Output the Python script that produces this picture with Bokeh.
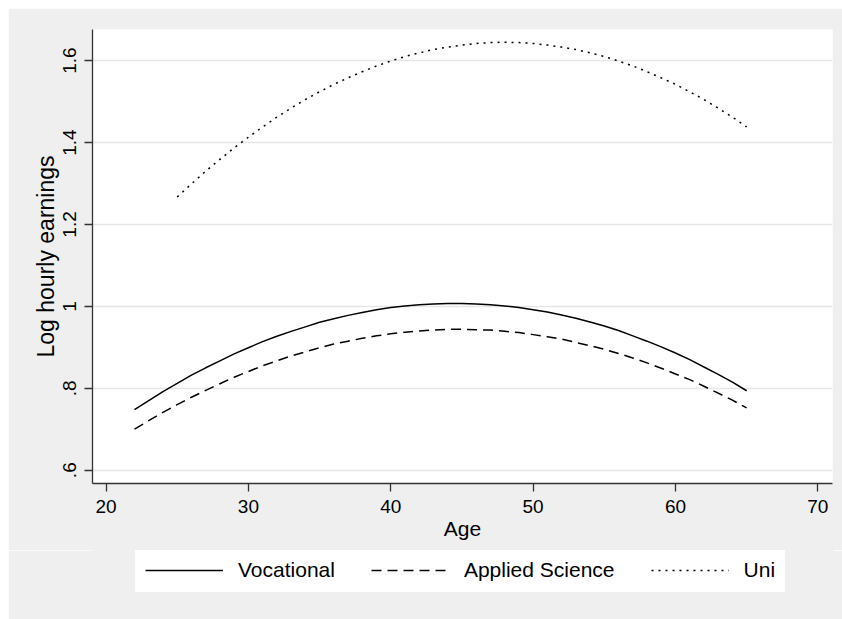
from bokeh.plotting import figure
from bokeh.layouts import column
from bokeh.models import Range1d, FixedTicker, Legend, LegendItem, ColumnDataSource
from bokeh.embed import file_html
from bokeh.resources import INLINE

# ---- data ----
ages_voc = list(range(22, 66))
vocational = [0.748, 0.770, 0.792, 0.812, 0.832, 0.850, 0.867, 0.884, 0.899, 0.914,
              0.927, 0.939, 0.950, 0.961, 0.970, 0.978, 0.985, 0.992, 0.997, 1.001,
              1.004, 1.006, 1.007, 1.007, 1.006, 1.004, 1.001, 0.997, 0.992, 0.986,
              0.979, 0.971, 0.962, 0.952, 0.941, 0.928, 0.915, 0.901, 0.886, 0.870,
              0.852, 0.834, 0.815, 0.794]
ages_app = list(range(22, 66))
applied = [0.700, 0.721, 0.741, 0.760, 0.778, 0.795, 0.811, 0.827, 0.841, 0.855,
           0.867, 0.879, 0.889, 0.899, 0.908, 0.915, 0.922, 0.928, 0.933, 0.937,
           0.940, 0.942, 0.944, 0.944, 0.943, 0.942, 0.939, 0.936, 0.931, 0.926,
           0.920, 0.912, 0.904, 0.895, 0.885, 0.874, 0.862, 0.849, 0.835, 0.821,
           0.805, 0.788, 0.771, 0.752]
ages_uni = list(range(25, 66))
uni = [1.267, 1.299, 1.330, 1.359, 1.387, 1.413, 1.438, 1.462, 1.484, 1.505,
       1.524, 1.542, 1.558, 1.573, 1.587, 1.599, 1.610, 1.619, 1.627, 1.633,
       1.638, 1.642, 1.644, 1.645, 1.644, 1.642, 1.638, 1.633, 1.627, 1.619,
       1.610, 1.599, 1.587, 1.573, 1.558, 1.542, 1.524, 1.505, 1.484, 1.462,
       1.438]
series_names = ["Vocational", "Applied Science", "Uni"]

x_ticks = [20, 30, 40, 50, 60, 70]
y_ticks = [0.6, 0.8, 1.0, 1.2, 1.4, 1.6]
y_tick_labels = [".6", ".8", "1", "1.2", "1.4", "1.6"]

FONT = "Liberation Sans"
BG = "#efefef"
DASHES = ["solid", "10 6", "2 5"]

p = figure(width=834, height=542, output_backend="svg", toolbar_location=None,
           x_range=Range1d(19.05, 71.03), y_range=Range1d(0.5675, 1.676),
           min_border_left=84, min_border_top=21, min_border_right=10,
           min_border_bottom=67)

p.background_fill_color = "white"
p.border_fill_color = BG
p.outline_line_color = None

sources = [ColumnDataSource(dict(x=ages_voc, y=vocational)),
           ColumnDataSource(dict(x=ages_app, y=applied)),
           ColumnDataSource(dict(x=ages_uni, y=uni))]
for src, dash in zip(sources, DASHES):
    p.line("x", "y", source=src, line_color="black", line_width=1.5, line_dash=dash)

# axes
p.xaxis.ticker = FixedTicker(ticks=x_ticks)
p.yaxis.ticker = FixedTicker(ticks=y_ticks)
p.yaxis.major_label_overrides = {t: l for t, l in zip(y_ticks, y_tick_labels)}
p.yaxis.major_label_orientation = "vertical"
p.xaxis.axis_label = "Age"
p.yaxis.axis_label = "Log hourly earnings"

for ax in (p.xaxis, p.yaxis):
    ax.axis_line_color = "#333333"
    ax.axis_line_width = 1.3
    ax.major_tick_line_color = "#333333"
    ax.major_tick_line_width = 1.3
    ax.major_tick_out = 8
    ax.major_tick_in = 0
    ax.minor_tick_line_color = None
    ax.major_label_text_font = FONT
    ax.major_label_text_font_size = "19px"
    ax.major_label_text_color = "black"
    ax.axis_label_text_font = FONT
    ax.axis_label_text_font_style = "normal"
    ax.axis_label_text_color = "black"

p.xaxis.axis_label_text_font_size = "21px"
p.yaxis.axis_label_text_font_size = "23px"
p.xaxis.major_label_standoff = 8
p.xaxis.axis_label_standoff = 1
p.yaxis.major_label_standoff = 8
p.yaxis.axis_label_standoff = 2

p.xgrid.grid_line_color = None
p.ygrid.grid_line_color = "#e6e6e6"
p.ygrid.grid_line_width = 1.5

# ---- legend strip below the plot (series drawn out of view, only keys shown) ----
q = figure(width=834, height=69, output_backend="svg", toolbar_location=None,
           x_axis_location=None, y_axis_location=None,
           x_range=Range1d(0, 1), y_range=Range1d(0, 1),
           min_border_left=0, min_border_right=0, min_border_top=0, min_border_bottom=0)
q.background_fill_color = BG
q.border_fill_color = BG
q.outline_line_color = BG
q.outline_line_width = 3
q.grid.visible = False

items = []
for name, src, dash in zip(series_names, sources, DASHES):
    r = q.line("x", "y", source=src, line_color="black", line_width=1.5, line_dash=dash)
    items.append(LegendItem(label=name, renderers=[r]))

legend = Legend(items=items, orientation="horizontal", location=(43, 27))
legend.label_text_font = FONT
legend.label_text_font_size = "21px"
legend.label_text_color = "black"
legend.glyph_width = 78
legend.glyph_height = 20
legend.label_height = 20
legend.label_standoff = 15
legend.spacing = 36
legend.padding = 9
legend.margin = 0
legend.background_fill_color = "white"
legend.background_fill_alpha = 1
legend.border_line_color = "white"
legend.border_line_width = 1
q.add_layout(legend, "center")

layout = column(p, q, spacing=0, margin=(8, 0, 0, 8))

open("out.html", "w").write(file_html(layout, INLINE))
